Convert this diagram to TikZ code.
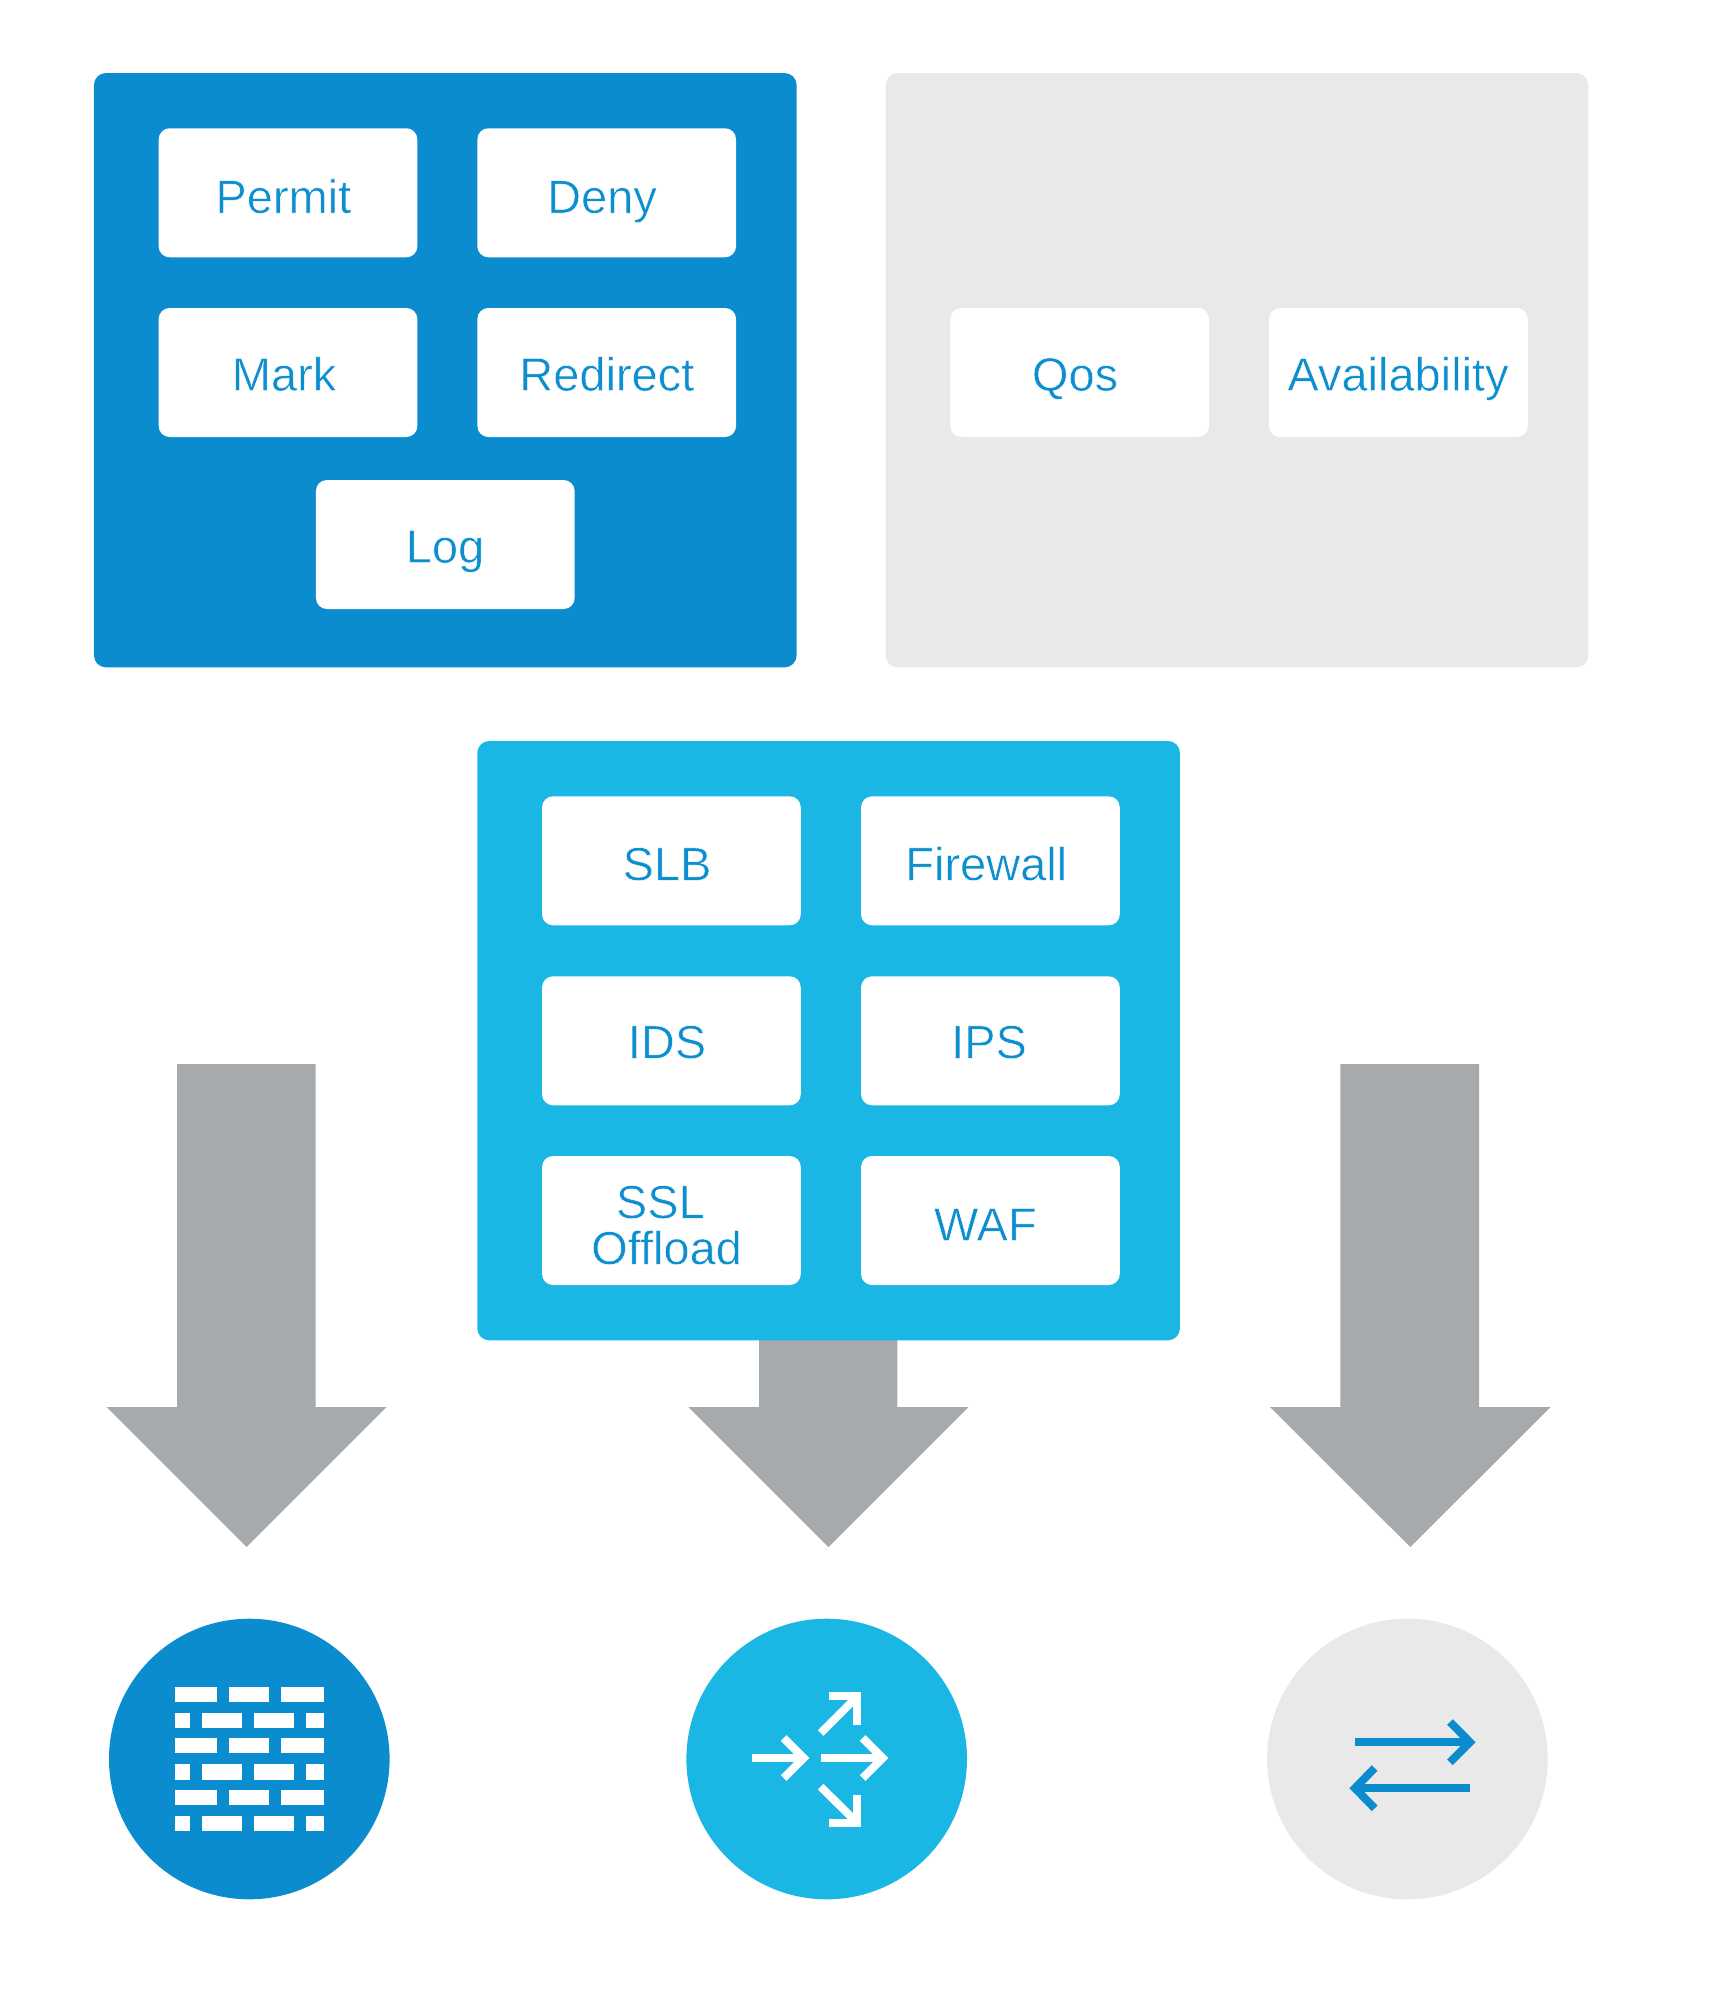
\documentclass[tikz,border=0pt]{standalone}
\usepackage{fontspec}
\newfontfamily\lblfont{Liberation Sans}
\definecolor{darkblue}{HTML}{0B8CCE}
\definecolor{cyanblue}{HTML}{1AB6E4}
\definecolor{lightgray}{HTML}{E9E9E9}
\definecolor{arrowgray}{HTML}{A6AAAC}
\definecolor{txtblue}{HTML}{0C8ECF}
\newcommand{\thinned}{\color{txtblue}\special{pdf:code 2 Tr 0.5 w 1 1 1 RG}}
\tikzset{
  panel/.style={rounded corners=12pt,inner sep=0pt,minimum width=702.7pt,minimum height=594.3pt},
  itembox/.style={fill=white,rounded corners=11pt,inner sep=0pt,minimum width=258.7pt,minimum height=129pt},
  lbl/.style={anchor=base,inner sep=0pt,text=txtblue,font=\lblfont\fontsize{47}{46}\selectfont},
  disc/.style={circle,inner sep=0pt,minimum size=280.6pt},
  bigarrow/.style={fill=arrowgray},
  brick/.style={fill=white},
  iconline/.style={line width=8pt,miter limit=10}
}
\begin{document}
\begin{tikzpicture}[x=1pt,y=-1pt]
\useasboundingbox (0,0) rectangle (1714,2000);
\fill[white] (0,0) rectangle (1714,2000);
% big arrows
\fill[bigarrow] (177,1064) -- (315.7,1064) -- (315.7,1407) -- (386.7,1407) -- (246.7,1547) -- (106.7,1407) -- (177,1407) -- cycle;
\fill[bigarrow] (759,1300) -- (897.3,1300) -- (897.3,1407) -- (968.7,1407) -- (828.5,1547) -- (688.3,1407) -- (759,1407) -- cycle;
\fill[bigarrow] (1340.3,1064) -- (1479,1064) -- (1479,1407) -- (1550.7,1407) -- (1410.3,1547) -- (1270,1407) -- (1340.3,1407) -- cycle;
% panels
\node[panel,fill=darkblue] (policy) at (445.3,370.2) {};
\node[panel,fill=lightgray] (service) at (1237,370.2) {};
\node[panel,fill=cyanblue,minimum height=599.3pt] (functions) at (828.6,1040.65) {};
% boxes: policy
\node[itembox] (bPermit) at (288,192.8) {};
\node[itembox] (bDeny) at (606.7,192.8) {};
\node[itembox] (bMark) at (288,372.5) {};
\node[itembox] (bRedirect) at (606.7,372.5) {};
\node[itembox] (bLog) at (445.3,544.5) {};
\node[lbl] (tPermit) at (283.3,213) {\thinned Permit};
\node[lbl] (tDeny) at (602,213) {\thinned Deny};
\node[lbl] (tMark) at (284,390.7) {\thinned Mark};
\node[lbl] (tRedirect) at (606.8,390.7) {\thinned Redirect};
\node[lbl] (tLog) at (445,562.7) {\thinned Log};
% boxes: service
\node[itembox] (bQos) at (1079.7,372.5) {};
\node[itembox] (bAvail) at (1398.4,372.5) {};
\node[lbl] (tQos) at (1075,390.7) {\thinned Qos};
\node[lbl] (tAvail) at (1398,390.7) {\thinned Availability};
% boxes: functions
\node[itembox] (bSLB) at (671.4,860.8) {};
\node[itembox] (bFirewall) at (990.4,860.8) {};
\node[itembox] (bIDS) at (671.4,1040.8) {};
\node[itembox] (bIPS) at (990.4,1040.8) {};
\node[itembox] (bSSL) at (671.4,1220.5) {};
\node[itembox] (bWAF) at (990.4,1220.5) {};
\node[lbl] (tSLB) at (667,880.3) {\thinned SLB};
\node[lbl] (tFirewall) at (986.2,880.3) {\thinned Firewall};
\node[lbl] (tIDS) at (667,1058.3) {\thinned IDS};
\node[lbl] (tIPS) at (989,1058.3) {\thinned IPS};
\node[lbl,align=center] (tSSL) at (666.5,1264.3) {\thinned SSL\hspace*{12.4pt}\\\thinned Offload};
\node[lbl] (tWAF) at (985.3,1240.7) {\thinned WAF};
% discs
\node[disc,fill=darkblue] (dWall) at (249.3,1759) {};
\node[disc,fill=cyanblue] (dRoute) at (826.7,1759) {};
\node[disc,fill=lightgray] (dSwap) at (1407.4,1759) {};
% brick icon, in units of a third of a pixel
\begin{scope}[shift={(80,1620)},x=0.3333pt,y=-0.3333pt]
\foreach \t/\b in {200/245,354/400,509/555}{
  \foreach \l/\r in {285/411,448/567,604/731}{
    \fill[brick] (\l,\t) rectangle (\r,\b);
  }
}
\foreach \t/\b in {278/324,432/479,587/633}{
  \foreach \l/\r in {285/331,366/485,522/641,678/731}{
    \fill[brick] (\l,\t) rectangle (\r,\b);
  }
}
\end{scope}
% routing icon
\begin{scope}[shift={(680,1620)},x=0.3333pt,y=-0.3333pt,white,iconline]
\draw (216,414) -- (370,414);
\draw (311,354) -- (371,414) -- (311,474);
\draw (422,414) -- (606,414);
\draw (548,354) -- (608,414) -- (548,474);
\draw (422,339) -- (528,233);
\draw (447,229) -- (532,229) -- (532,314);
\draw (422,500) -- (528,605);
\draw (447,609) -- (532,609) -- (532,524);
\end{scope}
% exchange icon
\begin{scope}[shift={(1270,1620)},x=0.3333pt,y=-0.3333pt,darkblue,iconline]
\draw (254,366.5) -- (598,366.5);
\draw (540,306) -- (600,366.5) -- (540,427);
\draw (600,504.5) -- (257,504.5);
\draw (314,444) -- (255,504.5) -- (314,565);
\end{scope}
\end{tikzpicture}
\end{document}
